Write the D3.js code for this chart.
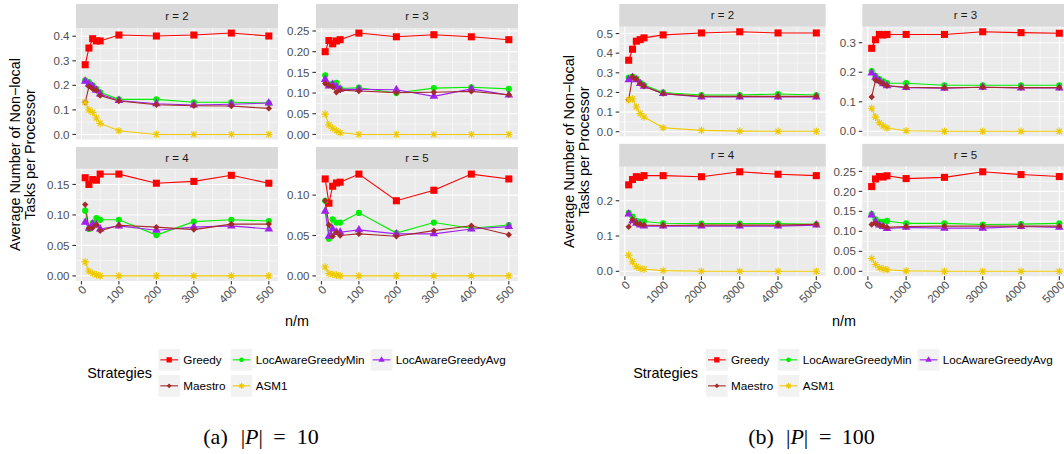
<!DOCTYPE html>
<html lang="en">
<head>
<meta charset="UTF-8">
<title>Non-local tasks per processor</title>
<script src="https://d3js.org/d3.v7.min.js"></script>
<style>
  body { margin: 0; background: #fff; }
  svg { display: block; font-family: "Liberation Sans", Arial, sans-serif; }
</style>
</head>
<body>
<div id="chart"></div>
<script>
// strategies, in legend order
const strategies = ["Greedy", "LocAwareGreedyMin", "LocAwareGreedyAvg", "Maestro", "ASM1"];
const colors = ["#FF0000", "#00EE00", "#A020F0", "#A52A2A", "#EEC900"];
const shapes = ["square", "circle", "triangle", "diamond", "asterisk"];

// n/m values on x
const nmA = [10, 20, 30, 40, 50, 100, 200, 300, 400, 500];
const nmB = [100, 200, 300, 400, 500, 1000, 2000, 3000, 4000, 5000];
const xTicksA = [0, 100, 200, 300, 400, 500];
const xTicksB = [0, 1000, 2000, 3000, 4000, 5000];

// |P| = 10 ; rows follow the strategies order
const a_r2 = [
  [0.284, 0.352, 0.390, 0.381, 0.381, 0.405, 0.401, 0.405, 0.413, 0.401],
  [0.220, 0.213, 0.200, 0.186, 0.172, 0.143, 0.143, 0.131, 0.131, 0.128],
  [0.217, 0.205, 0.195, 0.180, 0.165, 0.138, 0.125, 0.120, 0.123, 0.128],
  [0.131, 0.195, 0.186, 0.179, 0.158, 0.136, 0.121, 0.117, 0.116, 0.106],
  [0.131, 0.100, 0.090, 0.067, 0.045, 0.015, 0.000, 0.000, 0.000, 0.000]
];
const a_r3 = [
  [0.200, 0.227, 0.219, 0.226, 0.229, 0.245, 0.236, 0.241, 0.236, 0.229],
  [0.143, 0.120, 0.123, 0.125, 0.111, 0.113, 0.100, 0.112, 0.114, 0.110],
  [0.133, 0.117, 0.121, 0.115, 0.109, 0.109, 0.108, 0.092, 0.110, 0.095],
  [0.123, 0.119, 0.115, 0.102, 0.107, 0.105, 0.101, 0.102, 0.104, 0.096],
  [0.049, 0.023, 0.015, 0.009, 0.004, 0.000, 0.000, 0.000, 0.000, 0.000]
];
const a_r4 = [
  [0.161, 0.150, 0.158, 0.157, 0.167, 0.167, 0.152, 0.155, 0.165, 0.152],
  [0.107, 0.077, 0.087, 0.095, 0.092, 0.092, 0.067, 0.089, 0.092, 0.090],
  [0.088, 0.078, 0.085, 0.084, 0.077, 0.082, 0.075, 0.080, 0.082, 0.077],
  [0.117, 0.078, 0.079, 0.084, 0.074, 0.083, 0.080, 0.076, 0.085, 0.085],
  [0.023, 0.008, 0.004, 0.002, 0.000, 0.000, 0.000, 0.000, 0.000, 0.000]
];
const a_r5 = [
  [0.120, 0.090, 0.111, 0.115, 0.116, 0.126, 0.093, 0.106, 0.126, 0.120],
  [0.093, 0.046, 0.070, 0.066, 0.066, 0.078, 0.053, 0.066, 0.059, 0.063],
  [0.080, 0.049, 0.058, 0.054, 0.054, 0.057, 0.052, 0.052, 0.058, 0.061],
  [0.093, 0.063, 0.049, 0.054, 0.050, 0.052, 0.049, 0.056, 0.062, 0.051],
  [0.011, 0.003, 0.002, 0.001, 0.000, 0.000, 0.000, 0.000, 0.000, 0.000]
];

// |P| = 100
const b_r2 = [
  [0.364, 0.420, 0.461, 0.469, 0.478, 0.493, 0.503, 0.509, 0.503, 0.503],
  [0.276, 0.281, 0.270, 0.250, 0.238, 0.200, 0.187, 0.187, 0.192, 0.187],
  [0.265, 0.276, 0.265, 0.245, 0.231, 0.194, 0.177, 0.177, 0.177, 0.177],
  [0.163, 0.279, 0.267, 0.245, 0.231, 0.194, 0.180, 0.180, 0.180, 0.180],
  [0.163, 0.167, 0.126, 0.092, 0.075, 0.020, 0.007, 0.003, 0.002, 0.002]
];
const b_r3 = [
  [0.281, 0.310, 0.328, 0.326, 0.328, 0.328, 0.328, 0.337, 0.334, 0.332],
  [0.204, 0.188, 0.177, 0.169, 0.163, 0.163, 0.156, 0.156, 0.156, 0.156],
  [0.197, 0.183, 0.171, 0.161, 0.154, 0.148, 0.146, 0.149, 0.147, 0.147],
  [0.116, 0.174, 0.168, 0.161, 0.154, 0.149, 0.147, 0.149, 0.148, 0.148],
  [0.078, 0.048, 0.029, 0.018, 0.011, 0.002, 0.000, 0.000, 0.000, 0.000]
];
const b_r4 = [
  [0.245, 0.260, 0.268, 0.266, 0.271, 0.271, 0.268, 0.282, 0.275, 0.271],
  [0.166, 0.155, 0.143, 0.141, 0.141, 0.136, 0.135, 0.135, 0.135, 0.133],
  [0.162, 0.143, 0.136, 0.131, 0.128, 0.128, 0.128, 0.128, 0.128, 0.131],
  [0.126, 0.147, 0.136, 0.133, 0.131, 0.130, 0.131, 0.131, 0.131, 0.133],
  [0.046, 0.027, 0.013, 0.008, 0.006, 0.002, 0.000, 0.000, 0.000, 0.000]
];
const b_r5 = [
  [0.212, 0.231, 0.237, 0.236, 0.239, 0.232, 0.235, 0.249, 0.242, 0.237],
  [0.143, 0.130, 0.124, 0.124, 0.126, 0.120, 0.120, 0.117, 0.118, 0.120],
  [0.141, 0.124, 0.116, 0.112, 0.107, 0.110, 0.108, 0.108, 0.112, 0.110],
  [0.117, 0.120, 0.115, 0.113, 0.110, 0.112, 0.113, 0.113, 0.113, 0.113],
  [0.032, 0.017, 0.009, 0.006, 0.004, 0.001, 0.000, 0.000, 0.000, 0.000]
];

// y tick labels per panel
const yt_a_r2 = ["0.0", "0.1", "0.2", "0.3", "0.4"];
const yt_a_r3 = ["0.00", "0.05", "0.10", "0.15", "0.20", "0.25"];
const yt_a_r4 = ["0.00", "0.05", "0.10", "0.15"];
const yt_a_r5 = ["0.00", "0.05", "0.10"];
const yt_b_r2 = ["0.0", "0.1", "0.2", "0.3", "0.4", "0.5"];
const yt_b_r3 = ["0.0", "0.1", "0.2", "0.3"];
const yt_b_r4 = ["0.0", "0.1", "0.2"];
const yt_b_r5 = ["0.00", "0.05", "0.10", "0.15", "0.20", "0.25"];

const W = 1064, H = 454;
const svg = d3.select("#chart").append("svg").attr("width", W).attr("height", H);

function expand(ext) {
  const d = (ext[1] - ext[0]) * 0.05;
  return [ext[0] - d, ext[1] + d];
}

function shapePath(shape, k) {
  if (shape === "square") return d3.symbol(d3.symbolSquare, 50 * k * k)();
  if (shape === "circle") return d3.symbol(d3.symbolCircle, 30 * k * k)();
  if (shape === "triangle") return d3.symbol(d3.symbolTriangle, 32 * k * k)();
  if (shape === "diamond") {
    const r = 3.2 * k;
    return `M0,${-r}L${r},0L0,${r}L${-r},0Z`;
  }
  const r = 3.8 * k, d = r * Math.SQRT1_2;
  return `M${-r},0L${r},0M0,${-r}L0,${r}M${-d},${-d}L${d},${d}M${-d},${d}L${d},${-d}`;
}

function drawMark(g, i, k) {
  const p = g.append("path").attr("d", shapePath(shapes[i], k));
  if (shapes[i] === "asterisk") p.attr("fill", "none").attr("stroke", colors[i]).attr("stroke-width", 1.1);
  else p.attr("fill", colors[i]);
  return p;
}

function minorBreaks(major, dom) {
  const step = major[1] - major[0];
  const out = [];
  major.forEach(m => out.push(m - step / 2));
  out.push(major[major.length - 1] + step / 2);
  return out.filter(v => v > dom[0] && v < dom[1]);
}

function drawPanel(p) {
  const g = svg.append("g");
  const x = d3.scaleLinear().domain(expand(d3.extent(p.xs))).range([p.x0, p.x1]);
  const y = d3.scaleLinear().domain(expand(d3.extent(p.series.flat()))).range([p.y1, p.y0]);
  const yMajor = p.yTicks.map(Number);

  // strip
  g.append("rect").attr("x", p.x0).attr("y", p.sy).attr("width", p.x1 - p.x0).attr("height", p.y0 - p.sy)
    .attr("fill", "#D9D9D9");
  g.append("text").attr("x", (p.x0 + p.x1) / 2).attr("y", (p.sy + p.y0) / 2).attr("dy", "0.35em")
    .attr("text-anchor", "middle").attr("font-size", 11.5).attr("fill", "#1A1A1A").text(p.label);

  // panel + grid
  g.append("rect").attr("x", p.x0).attr("y", p.y0).attr("width", p.x1 - p.x0).attr("height", p.y1 - p.y0)
    .attr("fill", "#EBEBEB");
  minorBreaks(p.xTicks, x.domain()).forEach(v => {
    g.append("line").attr("x1", x(v)).attr("x2", x(v)).attr("y1", p.y0).attr("y2", p.y1)
      .attr("stroke", "#fff").attr("stroke-width", 0.55);
  });
  minorBreaks(yMajor, y.domain()).forEach(v => {
    g.append("line").attr("x1", p.x0).attr("x2", p.x1).attr("y1", y(v)).attr("y2", y(v))
      .attr("stroke", "#fff").attr("stroke-width", 0.55);
  });
  p.xTicks.forEach(v => {
    g.append("line").attr("x1", x(v)).attr("x2", x(v)).attr("y1", p.y0).attr("y2", p.y1)
      .attr("stroke", "#fff").attr("stroke-width", 1.1);
  });
  yMajor.forEach(v => {
    g.append("line").attr("x1", p.x0).attr("x2", p.x1).attr("y1", y(v)).attr("y2", y(v))
      .attr("stroke", "#fff").attr("stroke-width", 1.1);
  });

  // y axis
  yMajor.forEach((v, i) => {
    g.append("line").attr("x1", p.x0 - 3.6).attr("x2", p.x0).attr("y1", y(v)).attr("y2", y(v))
      .attr("stroke", "#333").attr("stroke-width", 1.1);
    g.append("text").attr("x", p.x0 - 6.5).attr("y", y(v)).attr("dy", "0.36em").attr("text-anchor", "end")
      .attr("font-size", 11.5).attr("fill", "#4D4D4D").text(p.yTicks[i]);
  });

  // x axis only on the bottom row
  if (p.bottom) {
    p.xTicks.forEach(v => {
      g.append("line").attr("x1", x(v)).attr("x2", x(v)).attr("y1", p.y1).attr("y2", p.y1 + 3.6)
        .attr("stroke", "#333").attr("stroke-width", 1.1);
      g.append("text").attr("transform", `translate(${x(v)},${p.y1 + 3.5}) rotate(-45)`)
        .attr("dy", "0.72em").attr("text-anchor", "end")
        .attr("font-size", 11.5).attr("fill", "#4D4D4D").text(v);
    });
  }

  // lines, then points
  const line = d3.line().x((d, i) => x(p.xs[i])).y(d => y(d));
  p.series.forEach((s, i) => {
    g.append("path").attr("d", line(s)).attr("fill", "none").attr("stroke", colors[i]).attr("stroke-width", 1.1);
  });
  p.series.forEach((s, i) => {
    s.forEach((v, j) => {
      drawMark(g, i, 1).attr("transform", `translate(${x(p.xs[j])},${y(v)})`);
    });
  });
}

function drawFigure(f) {
  const cells = [[f.r2, f.t2, "r = 2"], [f.r3, f.t3, "r = 3"], [f.r4, f.t4, "r = 4"], [f.r5, f.t5, "r = 5"]];
  cells.forEach((c, k) => {
    const col = k % 2, row = Math.floor(k / 2);
    drawPanel({
      x0: f.cols[col][0], x1: f.cols[col][1],
      y0: f.rows[row][0], y1: f.rows[row][1], sy: f.strips[row],
      xs: f.xs, xTicks: f.xTicks, series: c[0], yTicks: c[1], label: c[2], bottom: row === 1
    });
  });

  // y axis title
  const yc = (f.rows[0][0] + f.rows[1][1]) / 2;
  [["Average Number of Non\u2212local", f.ytx[0]], ["Tasks per Processor", f.ytx[1]]].forEach(t => {
    svg.append("text").attr("transform", `translate(${t[1]},${yc}) rotate(-90)`)
      .attr("text-anchor", "middle").attr("font-size", 14.4).attr("fill", "#000").text(t[0]);
  });

  // x axis title
  svg.append("text").attr("x", (f.cols[0][0] + f.cols[1][1]) / 2).attr("y", 326)
    .attr("text-anchor", "middle").attr("font-size", 14.4).attr("fill", "#000").text("n/m");

  // legend
  svg.append("text").attr("x", f.legTitle).attr("y", 373).attr("dy", "0.35em").attr("text-anchor", "end")
    .attr("font-size", 14.4).attr("fill", "#000").text("Strategies");
  const rowsY = [349, 375];
  strategies.forEach((s, i) => {
    const kx = f.legCols[i % 3], ky = rowsY[Math.floor(i / 3)];
    const key = svg.append("g").attr("transform", `translate(${kx},${ky})`);
    key.append("rect").attr("width", 21.7).attr("height", 21.7).attr("fill", "#F2F2F2");
    key.append("line").attr("x1", 2).attr("x2", 19.7).attr("y1", 10.85).attr("y2", 10.85)
      .attr("stroke", colors[i]).attr("stroke-width", 1.1);
    drawMark(key, i, 0.75).attr("transform", "translate(10.85,10.85)");
    svg.append("text").attr("x", kx + 25).attr("y", ky + 10.85).attr("dy", "0.35em")
      .attr("font-size", 11.7).attr("fill", "#000").text(s);
  });

  // sub caption
  const cap = svg.append("text").attr("y", 444).attr("font-family", "'Liberation Serif', serif")
    .attr("font-size", 22).attr("fill", "#000");
  cap.append("tspan").attr("x", f.cap[0]).text(f.capLetter);
  cap.append("tspan").attr("x", f.cap[1]).text("|");
  cap.append("tspan").attr("font-style", "italic").text("P");
  cap.append("tspan").text("|");
  cap.append("tspan").attr("x", f.cap[2]).text("=");
  cap.append("tspan").attr("x", f.cap[3]).text(f.capValue);
}

drawFigure({
  xs: nmA, xTicks: xTicksA,
  r2: a_r2, r3: a_r3, r4: a_r4, r5: a_r5,
  t2: yt_a_r2, t3: yt_a_r3, t4: yt_a_r4, t5: yt_a_r5,
  cols: [[76, 278], [316, 518]], rows: [[28, 139.5], [169, 281]], strips: [4, 147],
  ytx: [20, 34.5],
  legTitle: 152, legCols: [158.3, 230.7, 370.7],
  capLetter: "(a)", capValue: "10", cap: [203.3, 240.7, 273.3, 296.7]
});

drawFigure({
  xs: nmB, xTicks: xTicksB,
  r2: b_r2, r3: b_r3, r4: b_r4, r5: b_r5,
  t2: yt_b_r2, t3: yt_b_r3, t4: yt_b_r4, t5: yt_b_r5,
  cols: [[619.3, 825.7], [862.3, 1068.7]], rows: [[26.8, 136.3], [166.8, 276.3]], strips: [4, 143.8],
  ytx: [574, 588.5],
  legTitle: 698, legCols: [706, 777.7, 917.7],
  capLetter: "(b)", capValue: "100", cap: [748.3, 786, 819, 841.7]
});
</script>
</body>
</html>
